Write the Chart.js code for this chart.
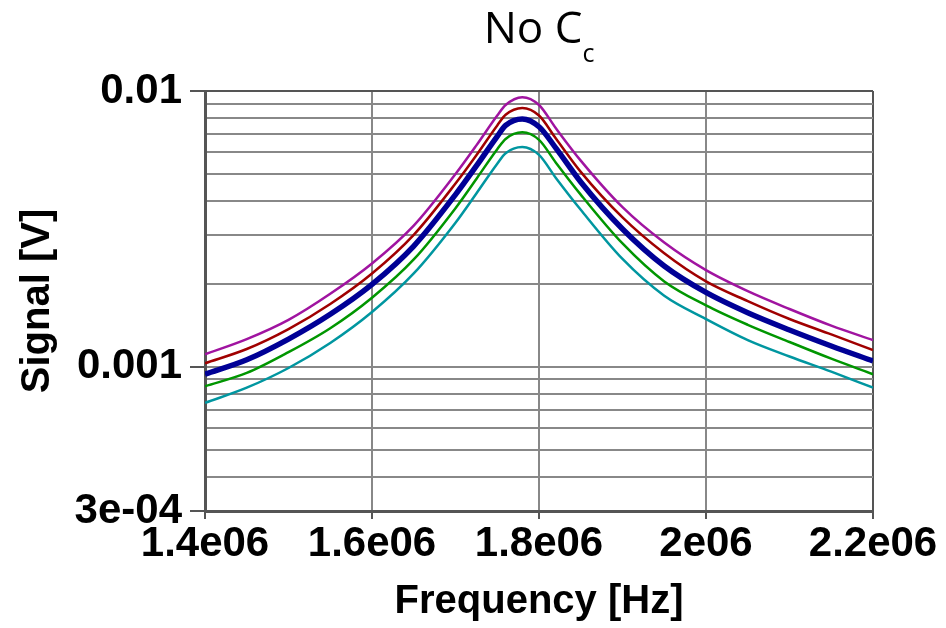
<!DOCTYPE html>
<html>
<head>
<meta charset="utf-8">
<script src="https://cdn.jsdelivr.net/npm/chart.js@4"></script>
<style>
  body { margin: 0; background: #fff; }
  #wrap { position: relative; width: 946px; height: 628px; }
  #title {
    position: absolute; left: 389px; top: 4px; width: 300px;
    text-align: center; font-family: "Open Sans", sans-serif;
    font-size: 44px; line-height: 44px; color: #000;
  }
  #title span { font-size: 25px; position: relative; top: 19px; }
</style>
</head>
<body>
<div id="wrap">
  <canvas id="myChart" width="946" height="628"></canvas>
  <div id="title">No C<span>c</span></div>
</div>
<script>
// frequency in MHz, signal values (mV)
const freqs = [1.40, 1.45, 1.50, 1.55, 1.60, 1.65, 1.70, 1.725, 1.75, 1.76, 1.78, 1.80, 1.82, 1.85, 1.90, 1.95, 2.00, 2.05, 2.10, 2.15, 2.20];
const magentaVals = [1.11, 1.26, 1.48, 1.84, 2.37, 3.25, 5.00, 6.35, 8.15, 8.90, 9.50, 8.90, 7.34, 5.59, 3.79, 2.82, 2.24, 1.88, 1.62, 1.41, 1.25];
const redVals = [1.03, 1.16, 1.37, 1.69, 2.18, 3.01, 4.62, 5.85, 7.50, 8.20, 8.68, 8.15, 6.74, 5.09, 3.48, 2.58, 2.04, 1.73, 1.49, 1.31, 1.15];
const blueVals = [0.94, 1.06, 1.26, 1.55, 1.99, 2.74, 4.21, 5.35, 6.85, 7.50, 7.92, 7.42, 6.22, 4.68, 3.16, 2.32, 1.86, 1.57, 1.36, 1.19, 1.05];
const greenVals = [0.85, 0.95, 1.13, 1.38, 1.78, 2.45, 3.76, 4.80, 6.15, 6.70, 7.08, 6.65, 5.51, 4.21, 2.80, 2.04, 1.67, 1.42, 1.23, 1.07, 0.94];
const cyanVals = [0.74, 0.84, 0.99, 1.22, 1.58, 2.18, 3.33, 4.25, 5.45, 5.95, 6.27, 5.87, 4.85, 3.71, 2.46, 1.81, 1.49, 1.25, 1.09, 0.96, 0.84];

const xTickLabels = ['1.4e06', '1.6e06', '1.8e06', '2e06', '2.2e06'];
const yTickValues = [0.0003, 0.0004, 0.0005, 0.0006, 0.0007, 0.0008, 0.0009,
  0.001, 0.002, 0.003, 0.004, 0.005, 0.006, 0.007, 0.008, 0.009, 0.01];
const yLabelled = { '0.01': '0.01', '0.001': '0.001', '0.0003': '3e-04' };

const pts = (vals) => freqs.map((f, i) => ({ x: f * 1e6, y: vals[i] * 1e-3 }));

const mkSet = (label, vals, color, width) => ({
  label: label,
  data: pts(vals),
  borderColor: color,
  borderWidth: width,
  pointRadius: 0,
  fill: false,
  cubicInterpolationMode: 'monotone'
});

const tickFont = { family: 'Liberation Sans', size: 42, weight: 'bold' };
const titleFont = { family: 'Liberation Sans', size: 40, weight: 'bold' };

const config = {
  type: 'line',
  data: {
    datasets: [
      mkSet('a', magentaVals, 'rgb(160, 20, 160)', 2.5),
      mkSet('b', redVals, 'rgb(160, 0, 0)', 2.5),
      mkSet('c', blueVals, 'rgb(0, 0, 150)', 5.5),
      mkSet('d', greenVals, 'rgb(0, 150, 0)', 2.5),
      mkSet('e', cyanVals, 'rgb(0, 150, 160)', 2.5)
    ]
  },
  options: {
    responsive: false,
    animation: false,
    devicePixelRatio: 1,
    layout: { padding: { left: 0, right: 73, top: 91, bottom: 0 } },
    plugins: { legend: { display: false }, tooltip: { enabled: false } },
    scales: {
      x: {
        type: 'linear',
        min: 1.4e6,
        max: 2.2e6,
        afterFit: (s) => { s.height = 117; },
        ticks: {
          stepSize: 2e5,
          color: '#000',
          font: tickFont,
          padding: 0,
          maxRotation: 0,
          callback: (v, i) => xTickLabels[i]
        },
        grid: {
          color: (c) => (c.tick && c.tick.value >= 2.2e6) ? '#555' : '#888',
          lineWidth: 2,
          tickLength: 8,
          tickColor: '#555'
        },
        border: { color: '#555', width: 3 },
        title: {
          display: true,
          text: 'Frequency [Hz]',
          color: '#000',
          font: titleFont,
          padding: { top: 0, bottom: 2 }
        }
      },
      y: {
        type: 'logarithmic',
        min: 0.0003,
        max: 0.01,
        afterFit: (s) => { s.width = 205; },
        afterBuildTicks: (s) => { s.ticks = yTickValues.map(v => ({ value: v })); },
        ticks: {
          autoSkip: false,
          color: '#000',
          font: tickFont,
          padding: 8,
          callback: (v) => yLabelled[String(v)] || ''
        },
        grid: {
          color: (c) => (c.tick && (c.tick.value === 0.01 || c.tick.value === 0.0003)) ? '#555' : '#888',
          lineWidth: 2,
          tickLength: 15,
          tickColor: (c) => (c.tick && yLabelled[String(c.tick.value)]) ? '#555' : 'rgba(0,0,0,0)'
        },
        border: { color: '#555', width: 3 },
        title: {
          display: true,
          text: 'Signal [V]',
          color: '#000',
          font: titleFont,
          padding: { top: 14, bottom: 0 }
        }
      }
    }
  }
};

var thisChart = new Chart(document.getElementById('myChart'), config);
</script>
</body>
</html>
